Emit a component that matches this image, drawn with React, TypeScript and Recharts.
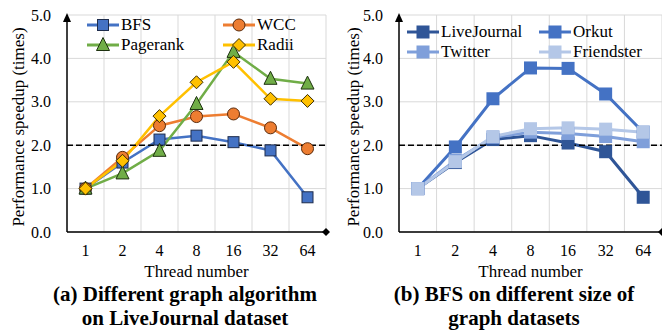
import React from "react";
import { LineChart, Line, XAxis, YAxis, CartesianGrid, ReferenceLine } from "recharts";

// thread counts on the x axis
const threads = ["1", "2", "4", "8", "16", "32", "64"];
const yTicks = [0, 1, 2, 3, 4, 5];

// (a) algorithms on LiveJournal
const bfs = [1.0, 1.6, 2.13, 2.22, 2.07, 1.88, 0.8];
const wcc = [1.0, 1.72, 2.45, 2.66, 2.72, 2.4, 1.92];
const pagerank = [1.0, 1.35, 1.87, 2.95, 4.15, 3.53, 3.42];
const radii = [1.0, 1.64, 2.67, 3.45, 3.92, 3.07, 3.02];

// (b) BFS on different datasets
const liveJournal = [1.0, 1.6, 2.13, 2.22, 2.05, 1.85, 0.8];
const orkut = [1.0, 1.96, 3.07, 3.78, 3.77, 3.18, 2.3];
const twitter = [1.0, 1.65, 2.18, 2.3, 2.27, 2.2, 2.08];
const friendster = [1.0, 1.62, 2.2, 2.38, 2.4, 2.37, 2.3];

const FONT = "'Liberation Serif', 'Times New Roman', serif";
const TOP = 15;
const AXIS_Y = 232;
const CHART_H = 262;

type Shape = "square" | "circle" | "triangle" | "diamond";
interface SeriesDef {
  key: string;
  label: string;
  values: number[];
  color: string;
  shape: Shape;
  size: number;
  border?: string;
}

const seriesA: SeriesDef[] = [
  { key: "bfs", label: "BFS", values: bfs, color: "#4472C4", shape: "square", size: 11, border: "#1f2d4d" },
  { key: "wcc", label: "WCC", values: wcc, color: "#ED7D31", shape: "circle", size: 12, border: "#5a2a0a" },
  { key: "pagerank", label: "Pagerank", values: pagerank, color: "#70AD47", shape: "triangle", size: 13, border: "#1e3210" },
  { key: "radii", label: "Radii", values: radii, color: "#FFC000", shape: "diamond", size: 13, border: "#3a2c00" },
];

const seriesB: SeriesDef[] = [
  { key: "lj", label: "LiveJournal", values: liveJournal, color: "#2F5597", shape: "square", size: 13 },
  { key: "orkut", label: "Orkut", values: orkut, color: "#4472C4", shape: "square", size: 13 },
  { key: "twitter", label: "Twitter", values: twitter, color: "#7F9FDA", shape: "square", size: 13 },
  { key: "friendster", label: "Friendster", values: friendster, color: "#B4C7E7", shape: "square", size: 13 },
];

function buildRows(defs: SeriesDef[]) {
  return threads.map((t, i) => {
    const row: Record<string, string | number> = { thread: t };
    defs.forEach((d) => (row[d.key] = d.values[i]));
    return row;
  });
}

function Marker({ cx, cy, s }: { cx: number; cy: number; s: SeriesDef }) {
  const h = s.size / 2;
  const stroke = s.border ?? "none";
  const sw = s.border ? 1 : 0;
  if (s.shape === "square")
    return <rect x={cx - h} y={cy - h} width={s.size} height={s.size} fill={s.color} stroke={stroke} strokeWidth={sw} />;
  if (s.shape === "circle") return <circle cx={cx} cy={cy} r={h} fill={s.color} stroke={stroke} strokeWidth={sw} />;
  if (s.shape === "triangle")
    return (
      <polygon
        points={`${cx},${cy - h - 1} ${cx + h},${cy + h - 1} ${cx - h},${cy + h - 1}`}
        fill={s.color}
        stroke={stroke}
        strokeWidth={sw}
      />
    );
  return (
    <polygon
      points={`${cx},${cy - h} ${cx + h},${cy} ${cx},${cy + h} ${cx - h},${cy}`}
      fill={s.color}
      stroke={stroke}
      strokeWidth={sw}
    />
  );
}

function LegendBox({
  defs,
  cols,
  rows,
  lineW,
}: {
  defs: SeriesDef[];
  cols: number[];
  rows: number[];
  lineW: number;
}) {
  return (
    <>
      {defs.map((d, i) => (
        <div
          key={d.key}
          style={{
            position: "absolute",
            left: cols[i % 2],
            top: rows[Math.floor(i / 2)] - 11,
            height: 22,
            display: "flex",
            alignItems: "center",
            fontSize: 17,
            whiteSpace: "nowrap",
          }}
        >
          <svg width={lineW} height={22}>
            <line x1={0} y1={11} x2={lineW} y2={11} stroke={d.color} strokeWidth={3} />
            <Marker cx={lineW / 2} cy={11} s={d} />
          </svg>
          <span style={{ marginLeft: 2 }}>{d.label}</span>
        </div>
      ))}
    </>
  );
}

function Panel({
  defs,
  left,
  yAxisW,
  rightMargin,
  lineW,
  titleLines,
  legendCols,
  legendRows,
  legendLineW,
  titleX,
  yLabelX,
}: {
  defs: SeriesDef[];
  left: number;
  yAxisW: number;
  rightMargin: number;
  lineW: number;
  titleLines: string[];
  legendCols: number[];
  legendRows: number[];
  legendLineW: number;
  titleX: number;
  yLabelX: number;
}) {
  const width = 331;
  const plotW = width - yAxisW - rightMargin;
  const pad = plotW / 14;
  const data = buildRows(defs);
  const axisX = yAxisW;
  const axisEnd = yAxisW + plotW;
  return (
    <div style={{ position: "absolute", left, top: 0, width, height: 330 }}>
      <LineChart width={width} height={CHART_H} data={data} margin={{ top: TOP, right: rightMargin, left: 0, bottom: 0 }}>
        <CartesianGrid
          stroke="#D9D9D9"
          strokeWidth={1}
          verticalCoordinatesGenerator={(p: any) => {
            const off = p.offset;
            return [1, 2, 3, 4, 5, 6, 7].map((i) => off.left + (i * off.width) / 7);
          }}
        />
        <XAxis
          dataKey="thread"
          height={CHART_H - AXIS_Y}
          padding={{ left: pad, right: pad }}
          axisLine={{ stroke: "#000", strokeWidth: 1.5 }}
          tickLine={false}
          tickSize={0}
          tickMargin={13}
          tick={{ fontSize: 16, fill: "#000", fontFamily: FONT }}
          interval={0}
        />
        <YAxis
          width={yAxisW}
          domain={[0, 5]}
          ticks={yTicks}
          tickFormatter={(v: number) => v.toFixed(1)}
          axisLine={{ stroke: "#000", strokeWidth: 1.5 }}
          tickLine={false}
          tickSize={0}
          tickMargin={16}
          tick={{ fontSize: 16, fill: "#000", fontFamily: FONT }}
        />
        {defs.map((d) => (
          <Line
            key={d.key}
            dataKey={d.key}
            type="linear"
            stroke={d.color}
            strokeWidth={lineW}
            isAnimationActive={false}
            dot={(p: any) => <Marker key={`${d.key}-${p.index}`} cx={p.cx} cy={p.cy} s={d} />}
            activeDot={false}
          />
        ))}
        <ReferenceLine y={2} stroke="#000" strokeWidth={1.5} strokeDasharray="6 3" />
      </LineChart>
      <svg style={{ position: "absolute", left: 0, top: 0, pointerEvents: "none" }} width={width} height={CHART_H}>
        <polygon points={`${axisX},${TOP - 2} ${axisX + 4},${TOP + 7} ${axisX - 4},${TOP + 7}`} fill="#000" />
        <polygon
          points={`${axisEnd},${AXIS_Y - 4} ${axisEnd + 4},${AXIS_Y} ${axisEnd},${AXIS_Y + 4} ${axisEnd - 4},${AXIS_Y}`}
          fill="#000"
        />
      </svg>
      <LegendBox defs={defs} cols={legendCols} rows={legendRows} lineW={legendLineW} />
      <div
        style={{
          position: "absolute",
          left: yLabelX - 120,
          top: 127 - 11,
          width: 240,
          height: 22,
          lineHeight: "22px",
          textAlign: "center",
          fontSize: 17,
          transform: "rotate(-90deg)",
        }}
      >
        Performance speedup (times)
      </div>
      <div
        style={{
          position: "absolute",
          left: axisX,
          width: plotW,
          top: 261,
          textAlign: "center",
          fontSize: 17,
          lineHeight: "22px",
        }}
      >
        Thread number
      </div>
      <div
        style={{
          position: "absolute",
          left: titleX - 160,
          width: 320,
          top: 282,
          textAlign: "center",
          fontSize: 21,
          fontWeight: 700,
          lineHeight: "24px",
        }}
      >
        {titleLines.map((t) => (
          <div key={t}>{t}</div>
        ))}
      </div>
    </div>
  );
}

export default function App() {
  return (
    <div
      style={{
        position: "absolute",
        left: 0,
        top: 0,
        width: 662,
        height: 330,
        background: "#fff",
        fontFamily: FONT,
        color: "#000",
        overflow: "hidden",
      }}
    >
      <Panel
        defs={seriesA}
        left={0}
        yAxisW={67}
        rightMargin={5}
        lineW={2.5}
        titleLines={["(a) Different graph algorithm", "on LiveJournal dataset"]}
        legendCols={[87, 223]}
        legendRows={[25, 45]}
        legendLineW={32}
        titleX={185}
        yLabelX={19}
      />
      <Panel
        defs={seriesB}
        left={331}
        yAxisW={68}
        rightMargin={0}
        lineW={3}
        titleLines={["(b) BFS on different size of", "graph datasets"]}
        legendCols={[76, 208]}
        legendRows={[32, 52]}
        legendLineW={32}
        titleX={183}
        yLabelX={23}
      />
    </div>
  );
}
